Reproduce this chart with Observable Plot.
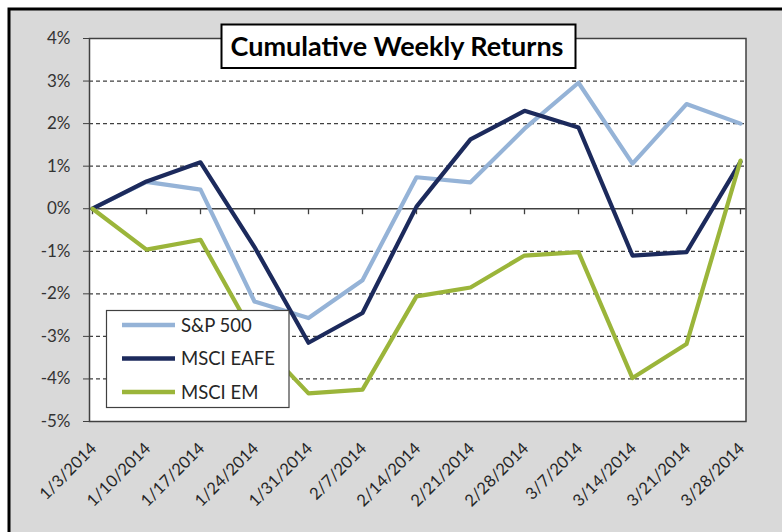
<!DOCTYPE html>
<html><head><meta charset="utf-8">
<script src="https://cdn.jsdelivr.net/npm/d3@7"></script>
<script src="https://cdn.jsdelivr.net/npm/@observablehq/plot@0.6"></script>
<style>body{margin:0;background:#fff;} svg{display:block;}</style>
</head><body><div id="chart"></div>
<script>
const dates = ["1/3/2014","1/10/2014","1/17/2014","1/24/2014","1/31/2014","2/7/2014","2/14/2014","2/21/2014","2/28/2014","3/7/2014","3/14/2014","3/21/2014","3/28/2014"];
const seriesNames = ["S&P 500","MSCI EAFE","MSCI EM"];
const seriesColors = ["#95B3D7","#1C2A5C","#9BB53A"];
// cumulative weekly returns, in percent
const sp500    = [0, 0.63, 0.45, -2.18, -2.57, -1.68, 0.74, 0.62, 1.88, 2.96, 1.06, 2.46, 2.00];
const msciEafe = [0, 0.64, 1.09, -0.90, -3.15, -2.45, 0.05, 1.63, 2.30, 1.91, -1.10, -1.02, 1.10];
const msciEm   = [0, -0.96, -0.73, -3.00, -4.34, -4.25, -2.06, -1.85, -1.10, -1.02, -3.98, -3.18, 1.13];
const yTicks = [-5, -4, -3, -2, -1, 0, 1, 2, 3, 4];
const gridTicks = [-4, -3, -2, -1, 1, 2, 3];
const titleText = "Cumulative Weekly Returns";

const rows = [];
[sp500, msciEafe, msciEm].forEach((vals, s) =>
  vals.forEach((v, i) => rows.push({series: seriesNames[s], date: dates[i], value: v})));

const FONT = "Lato, 'Open Sans', sans-serif";
const W = 782, H = 532;
const chart = Plot.plot({
  width: W, height: H,
  marginLeft: 89, marginRight: 36.5, marginTop: 38, marginBottom: 111,
  style: {fontFamily: FONT, background: "transparent", overflow: "visible"},
  x: {type: "point", domain: dates, padding: 0, insetRight: 2.5, axis: null},
  y: {domain: [-5, 4], axis: null},
  color: {domain: seriesNames, range: seriesColors},
  marks: [
    Plot.frame({fill: "white"}),
    Plot.gridY(gridTicks, {stroke: "#404040", strokeOpacity: 1, strokeWidth: 1.3, strokeDasharray: "4,3"}),
    Plot.ruleY([0], {stroke: "#404040", strokeWidth: 1.5}),
    Plot.ruleX(dates, {x: d => d, y1: 0, y2: 0, insetBottom: -6, stroke: "#404040", strokeWidth: 1.3}),
    Plot.axisY({ticks: yTicks, label: null, tickSize: 6, tickPadding: 13, tickFormat: d => d + "%", fontSize: 17, stroke: "#404040", fill: "#333"}),
    Plot.text(dates, {x: d => d, frameAnchor: "bottom", rotate: -45, textAnchor: "end", dx: 5, dy: 28, fontSize: 16.5, fill: "#262626"}),
    Plot.line(rows, {x: "date", y: "value", z: "series", stroke: "series", strokeWidth: 4.2}),
    Plot.frame({stroke: "#404040", strokeWidth: 1.5})
  ]
});

const svg = d3.select(chart);
const bg = svg.insert("g", ":first-child");
bg.append("rect").attr("x", 0).attr("y", 0).attr("width", W).attr("height", H).attr("fill", "#fff");
bg.append("rect").attr("x", 9).attr("y", 9).attr("width", W + 20).attr("height", H + 20)
  .attr("fill", "#D9D9D9").attr("stroke", "#000").attr("stroke-width", 3);

// title box
const tg = svg.append("g");
tg.append("rect").attr("x", 221.5).attr("y", 24.5).attr("width", 354).attr("height", 43.5)
  .attr("fill", "#fff").attr("stroke", "#000").attr("stroke-width", 2);
tg.append("text").attr("x", 397).attr("y", 55.5).attr("text-anchor", "middle")
  .attr("font-family", FONT).attr("font-weight", "bold")
  .attr("font-size", 27).attr("fill", "#000").text(titleText);

// legend
const lg = svg.append("g").attr("font-family", FONT);
lg.append("rect").attr("x", 106.5).attr("y", 310.5).attr("width", 182.5).attr("height", 97)
  .attr("fill", "#fff").attr("stroke", "#404040").attr("stroke-width", 1.2);
seriesNames.forEach((name, i) => {
  const cy = 325 + i * 33.5;
  lg.append("line").attr("x1", 122).attr("x2", 175).attr("y1", cy).attr("y2", cy)
    .attr("stroke", seriesColors[i]).attr("stroke-width", 4.5);
  lg.append("text").attr("x", 181).attr("y", cy + 6.5).attr("text-anchor", "start")
    .attr("font-size", 18.5).attr("fill", "#262626").text(name);
});

document.getElementById("chart").append(chart);
</script>
</body></html>
